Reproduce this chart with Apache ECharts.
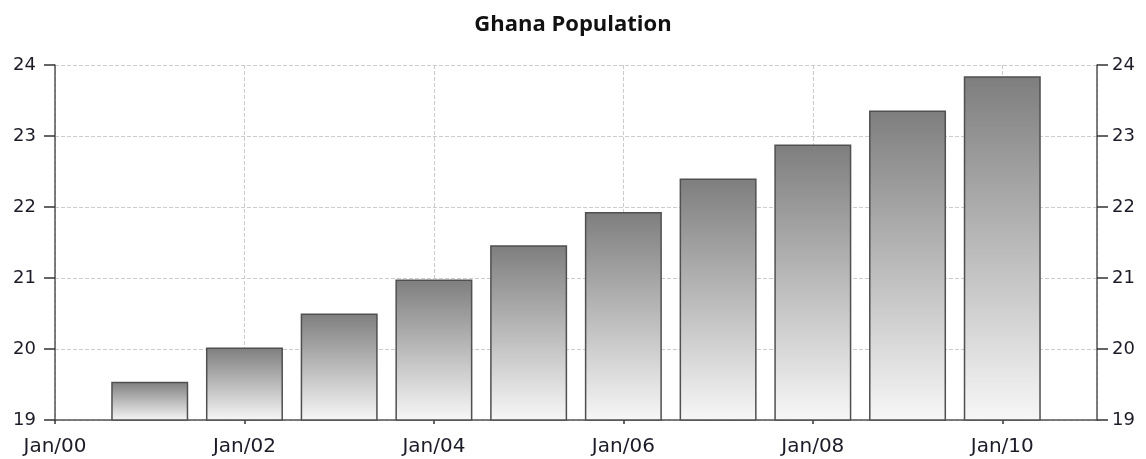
<!DOCTYPE html>
<html>
<head>
<meta charset="utf-8">
<script src="https://cdn.jsdelivr.net/npm/echarts@6/dist/echarts.min.js"></script>
<style>
html, body { margin: 0; padding: 0; background: #fff; }
#view { width: 1146px; height: 459px; }
</style>
</head>
<body>
<div id="view"></div>
<script>
var years = [2001, 2002, 2003, 2004, 2005, 2006, 2007, 2008, 2009, 2010];
var population = [19.54, 20.02, 20.5, 20.98, 21.46, 21.93, 22.4, 22.88, 23.36, 23.84];

var myChart = echarts.init(document.getElementById('view'));

var labelFont = { color: '#1c1c28', fontFamily: 'DejaVu Sans', fontSize: 18 };

var yAxisBase = function (pos, margin) {
    return {
        type: 'value',
        position: pos,
        min: 19,
        max: 24,
        interval: 1,
        axisLine: { show: true, lineStyle: { color: '#555', width: 1.5 } },
        axisTick: { show: true, length: 11, lineStyle: { color: '#333', width: 1.5 } },
        axisLabel: Object.assign({ margin: margin }, labelFont),
        splitLine: { show: pos === 'left', lineStyle: { color: '#ccc', type: 'dashed' } }
    };
};

option = {
    animation: false,
    title: {
        text: 'Ghana Population',
        left: 'center',
        top: 9,
        textStyle: { fontFamily: 'Open Sans', fontWeight: 'bold', fontSize: 22, color: '#111' }
    },
    grid: { left: 55, right: 49, top: 65, bottom: 39 },
    xAxis: {
        type: 'value',
        min: 2000,
        max: 2011,
        interval: 2,
        axisLine: { show: true, lineStyle: { color: '#555', width: 1.5 } },
        axisTick: { show: true, length: 4, lineStyle: { color: '#333', width: 1.5 } },
        axisLabel: Object.assign({
            margin: 17,
            showMaxLabel: false,
            formatter: function (v) { return 'Jan/' + String(v).slice(2); }
        }, labelFont, { fontSize: 20 }),
        splitLine: { show: true, lineStyle: { color: '#ccc', type: 'dashed' } }
    },
    yAxis: [yAxisBase('left', 19), yAxisBase('right', 15)],
    series: [{
        type: 'bar',
        barWidth: 77,
        data: years.map(function (y, i) { return [y, population[i]]; }),
        itemStyle: {
            borderColor: '#505050',
            borderWidth: 1.5,
            color: new echarts.graphic.LinearGradient(0, 0, 0, 1, [
                { offset: 0, color: '#7e7e7e' },
                { offset: 1, color: '#f7f7f7' }
            ])
        }
    }]
};

myChart.setOption(option);
</script>
</body>
</html>
